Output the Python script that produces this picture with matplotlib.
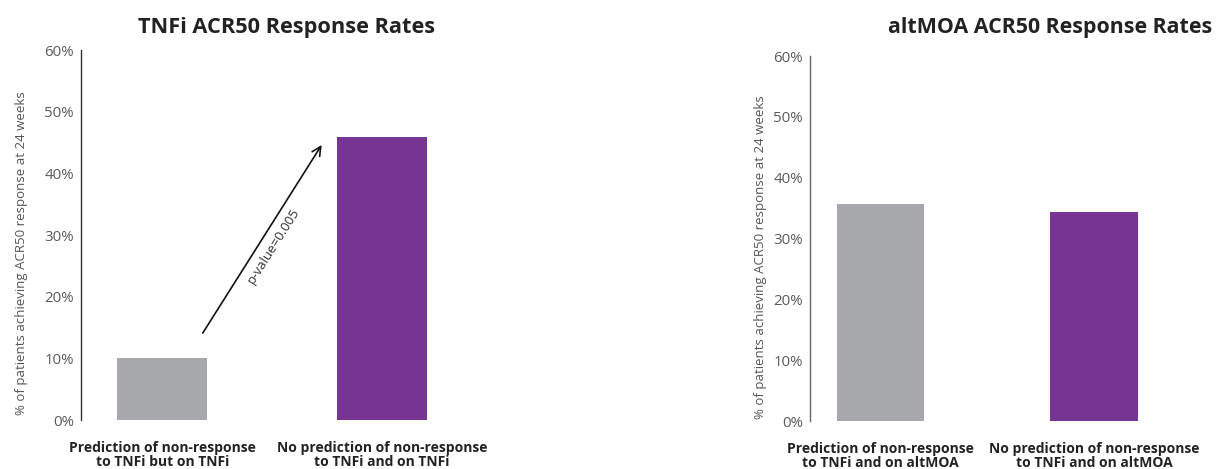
import matplotlib
matplotlib.use("Agg")
import matplotlib.pyplot as plt

plt.rcParams['font.family'] = ['Open Sans', 'DejaVu Sans']

# data (percent of patients achieving ACR50 at 24 weeks)
tnfi_labels = ["Prediction of non-response\nto TNFi but on TNFi",
               "No prediction of non-response\nto TNFi and on TNFi"]
tnfi_values = [10.0, 45.9]

alt_labels = ["Prediction of non-response\nto TNFi and on altMOA",
              "No prediction of non-response\nto TNFi and on altMOA"]
alt_values = [35.7, 34.3]

yticks = [0, 10, 20, 30, 40, 50, 60]
bar_colors = ["#A7A8AC", "#773593"]
ylabel = "% of patients achieving ACR50 response at 24 weeks"

fig = plt.figure(figsize=(12.16, 4.69), dpi=100)
W, H = 1216.0, 469.0


def make_axes(left_px, zero_px, top_px, right_px):
    return fig.add_axes([left_px / W, 1 - zero_px / H,
                         (right_px - left_px) / W, (zero_px - top_px) / H])


def style(ax, labels, values, xmin, spine_col, ylab_xy):
    ax.bar(range(len(values)), values, width=0.41, color=bar_colors)
    ax.set_xlim(xmin, 1.5)
    ax.set_ylim(0, 60)
    ax.set_yticks(yticks)
    ax.set_yticklabels([f"{t}%" for t in yticks])
    ax.tick_params(axis='y', length=0, pad=5, labelsize=10.8, labelcolor="#5a5a5a")
    ax.tick_params(axis='x', length=0, pad=15)
    ax.set_xticks(range(len(values)))
    ax.set_xticklabels(labels, fontsize=10, fontweight='bold', color="#222222",
                       linespacing=1.02)
    for s in ['top', 'right', 'bottom']:
        ax.spines[s].set_visible(False)
    ax.spines['left'].set_color(spine_col)
    ax.spines['left'].set_linewidth(1.0)
    ax.set_ylabel(ylabel, fontsize=9.5, color="#555555")
    ax.yaxis.set_label_coords(*ylab_xy)


ax1 = make_axes(81, 420, 50, 492)
style(ax1, tnfi_labels, tnfi_values, -0.37, "#333333", (-0.13, 0.45))

ax1.annotate("", xy=(0.725, 44.6), xytext=(0.184, 14.1),
             arrowprops=dict(arrowstyle="->", color="#111111", lw=1.2,
                             mutation_scale=16, shrinkA=0, shrinkB=0))
ax1.text(0.507, 28.2, "p-value=0.005", rotation=57.7, fontsize=9.5,
         color="#333333", ha='center', va='center', rotation_mode='anchor')

ax2 = make_axes(810, 421, 56, 1201)
style(ax2, alt_labels, alt_values, -0.33, "#666666", (-0.11, 0.45))

fig.text(287 / W, 1 - 27 / H, "TNFi ACR50 Response Rates", fontsize=15.7,
         fontweight='bold', color="#222222", ha='center', va='center')
fig.text(1050 / W, 1 - 27 / H, "altMOA ACR50 Response Rates", fontsize=15.4,
         fontweight='bold', color="#222222", ha='center', va='center')

fig.savefig("out.png", dpi=100)
